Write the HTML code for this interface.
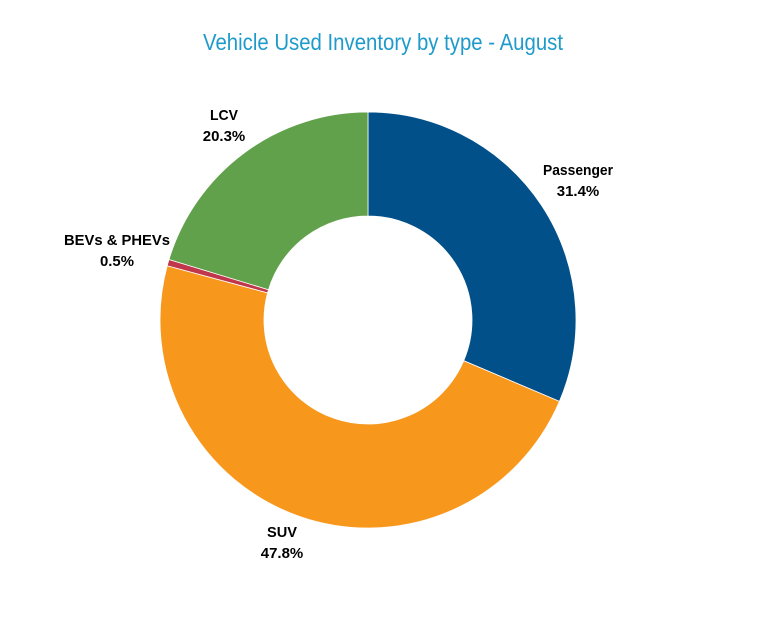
<!DOCTYPE html>
<html><head><meta charset="utf-8"><style>
html,body{margin:0;padding:0;background:#fff;}
svg{display:block;font-family:"Liberation Sans",sans-serif;}
</style></head><body>
<svg width="768" height="624" viewBox="0 0 768 624">
<text x="383" y="50" text-anchor="middle" font-size="23" fill="#1f9bcb" textLength="360" lengthAdjust="spacingAndGlyphs">Vehicle Used Inventory by type - August</text>
<g id="slices"></g>
<g id="labels"></g>
</svg>
<script>
const categories=["Passenger","SUV","BEVs & PHEVs","LCV"];
const values=[31.4,47.8,0.5,20.3];
const colors=["#02508a","#f7981d","#c0364b","#61a14b"];
const labelPos=[[578,175,70],[282,537,30],[117,245,106],[224,120,28]];
const cx=368,cy=320,R=208,r=104;
const NS="http://www.w3.org/2000/svg";
const total=values.reduce((a,b)=>a+b,0);
function pt(a,rad){return [cx+rad*Math.sin(a),cy-rad*Math.cos(a)];}
let a0=0;
const g=document.getElementById('slices'),lg=document.getElementById('labels');
values.forEach((v,i)=>{
  const a1=a0+v/total*2*Math.PI;
  const large=(a1-a0)>Math.PI?1:0;
  const [x0,y0]=pt(a0,R),[x1,y1]=pt(a1,R),[x2,y2]=pt(a1,r),[x3,y3]=pt(a0,r);
  const p=document.createElementNS(NS,'path');
  p.setAttribute('d',`M${x0},${y0}A${R},${R} 0 ${large} 1 ${x1},${y1}L${x2},${y2}A${r},${r} 0 ${large} 0 ${x3},${y3}Z`);
  p.setAttribute('fill',colors[i]);
  p.setAttribute('stroke','#fff');
  p.setAttribute('stroke-width','0.8');
  
  
  g.appendChild(p);
  const [lx,ly,w]=labelPos[i];
  const t1=document.createElementNS(NS,'text');
  t1.setAttribute('x',lx);t1.setAttribute('y',ly);
  t1.setAttribute('text-anchor','middle');t1.setAttribute('font-size','15');t1.setAttribute('font-weight','bold');
  t1.setAttribute('textLength',w);t1.setAttribute('lengthAdjust','spacingAndGlyphs');
  t1.textContent=categories[i];
  
  
  lg.appendChild(t1);
  const t2=document.createElementNS(NS,'text');
  t2.setAttribute('x',lx);t2.setAttribute('y',ly+21);
  t2.setAttribute('text-anchor','middle');t2.setAttribute('font-size','15');t2.setAttribute('font-weight','bold');
  const s=v.toFixed(1)+'%';
  t2.setAttribute('textLength',s.length*8.5);t2.setAttribute('lengthAdjust','spacingAndGlyphs');
  t2.textContent=s;
  
  
  lg.appendChild(t2);
  a0=a1;
});
</script>
</body></html>
